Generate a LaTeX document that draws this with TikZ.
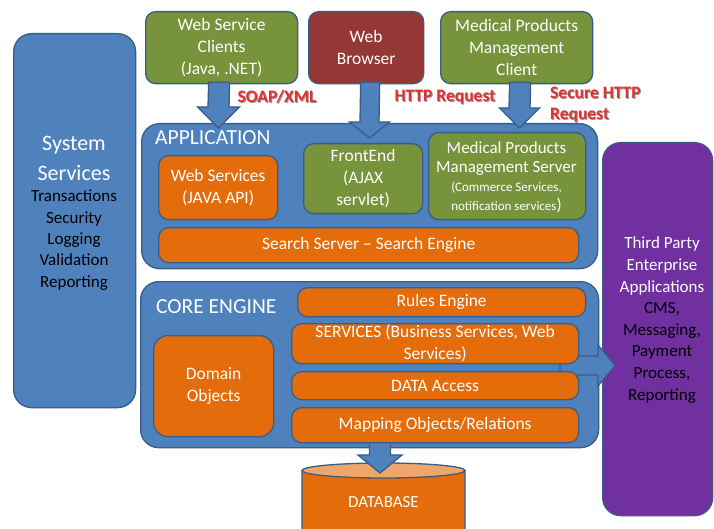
\documentclass[tikz,border=0pt]{standalone}
\usepackage{fontspec}
\setmainfont{Carlito}
\usetikzlibrary{calc}

\definecolor{blueF}{HTML}{4F81BD}
\definecolor{bordc}{HTML}{385D8A}
\definecolor{orangeF}{HTML}{E46C0A}
\definecolor{greenF}{HTML}{77933C}
\definecolor{redF}{HTML}{953735}
\definecolor{purpleF}{HTML}{7030A0}
\definecolor{dbtop}{HTML}{EFA66C}
\definecolor{lblred}{HTML}{E5302F}
\definecolor{lblshade}{HTML}{9A9A9A}

\newcommand{\fmain}{\fontsize{17.5}{21.7}\selectfont}
\newcommand{\ftitle}{\fontsize{21.5}{26}\selectfont}

% block arrow pointing down: #1 top centre, #2 tip, #3 shaft half width,
% #4 head half width, #5 head length
\newcommand{\blockdown}[5]{%
  \draw[barrow] ($(#1)+(-#3,0)$) -- ($(#2)+(-#3,-#5)$) -- ($(#2)+(-#4,-#5)$)
    -- (#2) -- ($(#2)+(#4,-#5)$) -- ($(#2)+(#3,-#5)$) -- ($(#1)+(#3,0)$) -- cycle;}
% block arrow pointing right
\newcommand{\blockright}[5]{%
  \draw[barrow] ($(#1)+(0,-#3)$) -- ($(#2)+(-#5,-#3)$) -- ($(#2)+(-#5,-#4)$)
    -- (#2) -- ($(#2)+(-#5,#4)$) -- ($(#2)+(-#5,#3)$) -- ($(#1)+(0,#3)$) -- cycle;}

\tikzset{
  box/.style={draw=bordc, line width=1.3pt, rounded corners=10pt, text=white,
    align=center, inner sep=0pt, anchor=north west, font=\fmain},
  wh/.style 2 args={minimum width=#1pt, minimum height=#2pt},
  outerbox/.style={box, fill=blueF, rounded corners=18pt},
  greenbox/.style={box, fill=greenF},
  orangebox/.style={box, fill=orangeF},
  redbox/.style={box, fill=redF},
  purplebox/.style={box, fill=purpleF, rounded corners=18pt},
  barrow/.style={draw=bordc, line width=1.3pt, fill=blueF, line join=miter},
  lbl/.style={font=\fontsize{17.5}{21}\selectfont\bfseries, inner sep=0pt},
  redlbl/.style={lbl, text=lblred},
  shadelbl/.style={lbl, text=lblshade},
  plain/.style={inner sep=0pt, align=center},
}

\begin{document}
\begin{tikzpicture}[x=1pt, y=-1pt]
\useasboundingbox (0,0) rectangle (714,529);
\clip (0,0) rectangle (714,529);
\fill[white] (0,0) rectangle (714,529);

% outer containers
\node[outerbox, wh={122}{374}] (sys) at (13,33) {};
\node[plain, text=white, font=\fontsize{22}{30}\selectfont] (systitle) at (74,158) {System\\Services};
\node[plain, text=black, font=\fontsize{17}{21.4}\selectfont] (syslist) at (74,240)
  {Transactions\\Security\\Logging\\Validation\\Reporting};

\node[outerbox, wh={456}{145}] (app) at (141,123) {};
\node[plain, anchor=west, text=white, font=\ftitle] (apptitle) at (155,138) {APPLICATION};

\node[outerbox, wh={458}{166}] (core) at (140,281) {};
\node[plain, anchor=west, text=white, font=\ftitle] (coretitle) at (156,307) {CORE ENGINE};

\node[purplebox, wh={110}{373}] (third) at (602,142) {};
\node[plain, font=\fontsize{17}{21.6}\selectfont] (thirdtext) at (662,320)
  {\color{white}Third Party\\\color{white}Enterprise\\\color{white}Applications\\
   \color{black}CMS,\\\color{black}Messaging,\\\color{black}Payment\\
   \color{black}Process,\\\color{black}Reporting};

% database cylinder
\coordinate (dbtopc) at (383.5,470.5);
\draw[bordc, line width=1.3pt, fill=orangeF]
  (302,470.5) -- (302,530) arc[start angle=180, end angle=360, x radius=81.5pt, y radius=7.5pt]
  -- (465,470.5) -- cycle;
\draw[bordc, line width=1.3pt, fill=dbtop] (dbtopc) ellipse [x radius=81.5pt, y radius=7.5pt];
\node[plain, text=white, font=\fontsize{17}{21}\selectfont] (db) at (383.5,502) {DATABASE};

% top clients
\node[greenbox, wh={152}{72}] (wsc) at (145,11) {Web Service\\Clients\\(Java, .NET)};
\node[redbox, wh={115}{72}] (wb) at (308,11) {Web\\Browser};
\node[greenbox, wh={152}{72}] (mpmc) at (440,11) {Medical Products\\Management\\Client};

% block arrows
\coordinate (a1s) at ($(wsc.south)+(-2.5,-2)$);
\coordinate (a1t) at (218.5,128);
\blockdown{a1s}{a1t}{10.5}{21}{21}
\coordinate (a2s) at ($(wb.south)+(4,-2)$);
\coordinate (a2t) at (369.5,138);
\blockdown{a2s}{a2t}{9.5}{20}{16}
\coordinate (a3s) at ($(mpmc.south)+(3.5,-2)$);
\coordinate (a3t) at (519.5,128);
\blockdown{a3s}{a3t}{10.5}{20}{20}
\coordinate (a4s) at (560,365.5);
\coordinate (a4t) at (615,365.5);
\blockright{a4s}{a4t}{9.5}{20.5}{17}
\coordinate (a5s) at (380,438);
\coordinate (a5t) at (380,473);
\blockdown{a5s}{a5t}{10.5}{22}{18}

% application layer
\node[orangebox, wh={119}{64}] (wsapi) at (158,155) {Web Services\\(JAVA API)};
\node[greenbox, wh={119}{70}] (fe) at (303,143) {FrontEnd\\(AJAX\\servlet)};
\node[greenbox, wh={157}{87}] (mpms) at (428,132) {};
\node[plain, text=white, font=\fontsize{17}{19}\selectfont] (mpmstext) at (506.5,177)
  {Medical Products\\Management Server\\
   {\fontsize{13}{19}\selectfont (Commerce Services,}\\
   {\fontsize{13}{19}\selectfont notification services}{\fontsize{17}{19}\selectfont )}};
\node[orangebox, wh={420}{35}] (search) at (158,227) {Search Server -- Search Engine};

% core engine layer
\node[orangebox, wh={288}{29}] (rules) at (297,287) {Rules Engine};
\node[orangebox, wh={287}{40}] (services) at (291,323) {SERVICES (Business Services, Web\\Services)};
\node[orangebox, wh={287}{28}] (data) at (291,371) {DATA Access};
\node[orangebox, wh={287}{35}] (mapping) at (291,407) {Mapping Objects/Relations};
\node[orangebox, wh={120}{101}, rounded corners=14pt] (domain) at (153,335) {Domain\\Objects};

% protocol labels
\node[shadelbl] (soapsh) at (278,98) {SOAP/XML};
\node[redlbl] (soap) at (277,97) {SOAP/XML};
\node[shadelbl] (httpsh) at (446,98) {HTTP Request};
\node[redlbl] (http) at (445,97) {HTTP Request};
\node[shadelbl, anchor=north west, align=left] (shttpsh) at (551,88) {Secure HTTP\\Request};
\node[redlbl, anchor=north west, align=left] (shttp) at (550,87) {Secure HTTP\\Request};
\end{tikzpicture}
\end{document}
